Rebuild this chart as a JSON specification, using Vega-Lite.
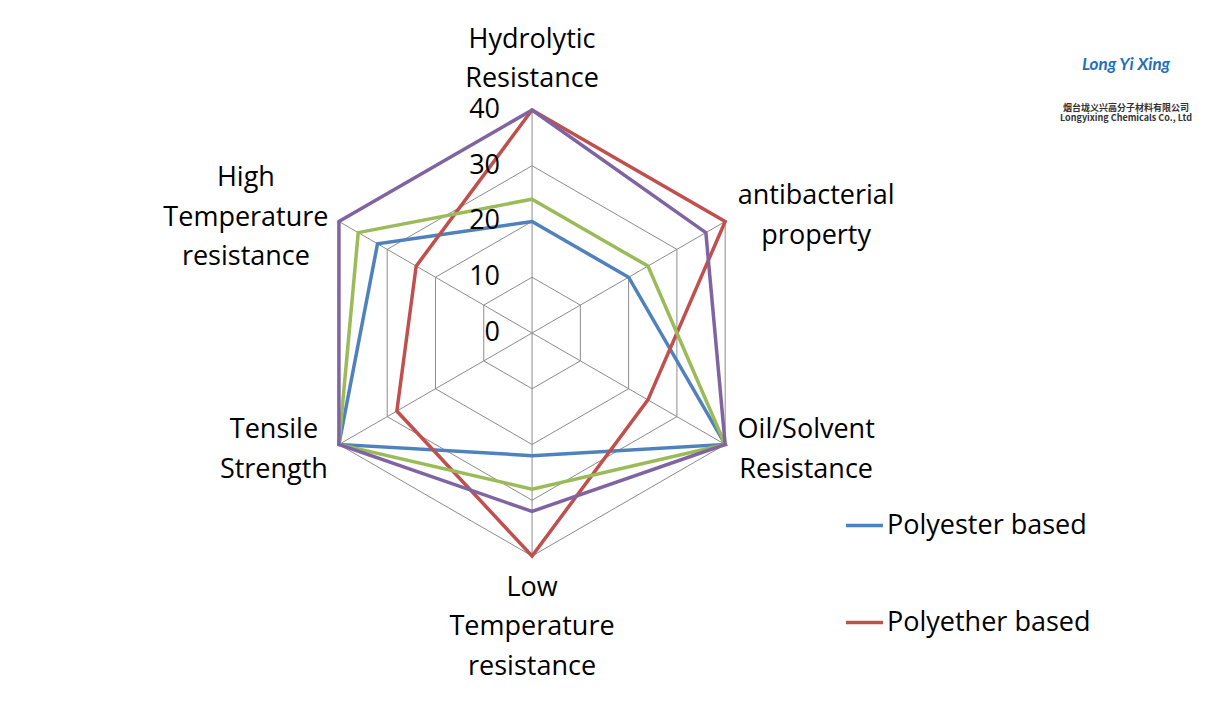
{
  "$schema": "https://vega.github.io/schema/vega-lite/v6.json",
  "width": 1210,
  "height": 720,
  "autosize": {"type": "none"},
  "padding": 0,
  "background": "white",
  "config": {"view": {"stroke": null}, "font": "Open Sans"},
  "title": {
    "text": "Long Yi Xing",
    "subtitle": ["烟台垅义兴高分子材料有限公司", "Longyixing Chemicals Co., Ltd"],
    "anchor": "end",
    "frame": "group",
    "orient": "top",
    "align": "center",
    "dx": -84,
    "offset": -124,
    "font": "Lato",
    "fontStyle": "italic",
    "fontWeight": "bold",
    "fontSize": 17,
    "color": "#1E70BC",
    "subtitleFont": "Noto Sans CJK SC",
    "subtitleFontSize": 9,
    "subtitleFontWeight": "bold",
    "subtitleColor": "#333333",
    "subtitlePadding": 30,
    "subtitleLineHeight": 10
  },
  "datasets": {
    "scores": [
      {"series": "Polyester based", "category": "Hydrolytic Resistance", "value": 20},
      {"series": "Polyester based", "category": "antibacterial property", "value": 20},
      {"series": "Polyester based", "category": "Oil/Solvent Resistance", "value": 40},
      {"series": "Polyester based", "category": "Low Temperature resistance", "value": 22},
      {"series": "Polyester based", "category": "Tensile Strength", "value": 40},
      {"series": "Polyester based", "category": "High Temperature resistance", "value": 32},
      {"series": "Polyether based", "category": "Hydrolytic Resistance", "value": 40},
      {"series": "Polyether based", "category": "antibacterial property", "value": 40},
      {"series": "Polyether based", "category": "Oil/Solvent Resistance", "value": 24},
      {"series": "Polyether based", "category": "Low Temperature resistance", "value": 40},
      {"series": "Polyether based", "category": "Tensile Strength", "value": 28},
      {"series": "Polyether based", "category": "High Temperature resistance", "value": 24},
      {"series": "Polycaprolactone based", "category": "Hydrolytic Resistance", "value": 24},
      {"series": "Polycaprolactone based", "category": "antibacterial property", "value": 24},
      {"series": "Polycaprolactone based", "category": "Oil/Solvent Resistance", "value": 40},
      {"series": "Polycaprolactone based", "category": "Low Temperature resistance", "value": 28},
      {"series": "Polycaprolactone based", "category": "Tensile Strength", "value": 40},
      {"series": "Polycaprolactone based", "category": "High Temperature resistance", "value": 36},
      {"series": "Polycarbonate based", "category": "Hydrolytic Resistance", "value": 40},
      {"series": "Polycarbonate based", "category": "antibacterial property", "value": 36},
      {"series": "Polycarbonate based", "category": "Oil/Solvent Resistance", "value": 40},
      {"series": "Polycarbonate based", "category": "Low Temperature resistance", "value": 32},
      {"series": "Polycarbonate based", "category": "Tensile Strength", "value": 40},
      {"series": "Polycarbonate based", "category": "High Temperature resistance", "value": 40}
    ],
    "cats": [
      {"category": "Hydrolytic Resistance"},
      {"category": "antibacterial property"},
      {"category": "Oil/Solvent Resistance"},
      {"category": "Low Temperature resistance"},
      {"category": "Tensile Strength"},
      {"category": "High Temperature resistance"}
    ],
    "grid": [
      {"level": 10, "k": [0, 1, 2, 3, 4, 5]},
      {"level": 20, "k": [0, 1, 2, 3, 4, 5]},
      {"level": 30, "k": [0, 1, 2, 3, 4, 5]},
      {"level": 40, "k": [0, 1, 2, 3, 4, 5]}
    ],
    "ticks": [{"tick": 0}, {"tick": 10}, {"tick": 20}, {"tick": 30}, {"tick": 40}]
  },
  "encoding": {
    "x": {"field": "px", "type": "quantitative", "scale": {"domain": [-95.43, 121.6], "nice": false, "zero": false}, "axis": null},
    "y": {"field": "py", "type": "quantitative", "scale": {"domain": [-69.42, 59.73], "nice": false, "zero": false}, "axis": null}
  },
  "layer": [
    {
      "data": {"name": "grid"},
      "transform": [
        {"flatten": ["k"]},
        {"calculate": "PI/2 - datum.k*PI/3", "as": "a"},
        {"calculate": "datum.level*cos(datum.a)", "as": "px"},
        {"calculate": "datum.level*sin(datum.a)", "as": "py"}
      ],
      "mark": {"type": "line", "interpolate": "linear-closed", "color": "#8C8C8C", "strokeWidth": 1},
      "encoding": {"detail": {"field": "level"}, "order": {"field": "k", "type": "quantitative"}}
    },
    {
      "data": {"name": "cats"},
      "transform": [
        {"calculate": "indexof(['Hydrolytic Resistance','antibacterial property','Oil/Solvent Resistance','Low Temperature resistance','Tensile Strength','High Temperature resistance'], datum.category)", "as": "k"},
        {"calculate": "PI/2 - datum.k*PI/3", "as": "a"},
        {"calculate": "40*cos(datum.a)", "as": "px"},
        {"calculate": "40*sin(datum.a)", "as": "py"}
      ],
      "mark": {"type": "rule", "color": "#8C8C8C", "strokeWidth": 1},
      "encoding": {"x2": {"datum": 0}, "y2": {"datum": 0}}
    },
    {
      "data": {"name": "scores"},
      "transform": [
        {"calculate": "indexof(['Hydrolytic Resistance','antibacterial property','Oil/Solvent Resistance','Low Temperature resistance','Tensile Strength','High Temperature resistance'], datum.category)", "as": "k"},
        {"calculate": "PI/2 - datum.k*PI/3", "as": "a"},
        {"calculate": "datum.value*cos(datum.a)", "as": "px"},
        {"calculate": "datum.value*sin(datum.a)", "as": "py"}
      ],
      "mark": {"type": "line", "interpolate": "linear-closed", "strokeWidth": 3.5},
      "encoding": {
        "color": {
          "field": "series",
          "type": "nominal",
          "sort": ["Polyester based", "Polyether based", "Polycaprolactone based", "Polycarbonate based"],
          "scale": {
            "domain": ["Polyester based", "Polyether based", "Polycaprolactone based", "Polycarbonate based"],
            "range": ["#4F81BD", "#C0504D", "#9BBB59", "#8064A2"]
          },
          "legend": {
            "orient": "none",
            "legendX": 844,
            "legendY": 505,
            "title": null,
            "values": ["Polyester based", "Polyether based"],
            "symbolType": "stroke",
            "symbolSize": 1369,
            "symbolStrokeWidth": 3.5,
            "labelFont": "Open Sans",
            "labelFontSize": 27,
            "labelColor": "black",
            "labelLimit": 400,
            "labelOffset": 2,
            "rowPadding": 63,
            "padding": 0
          }
        },
        "order": {"field": "k", "type": "quantitative"}
      }
    },
    {
      "data": {"name": "ticks"},
      "transform": [
        {"calculate": "0", "as": "px"},
        {"calculate": "datum.tick", "as": "py"}
      ],
      "mark": {"type": "text", "align": "right", "baseline": "middle", "dx": -32, "fontSize": 27, "color": "black"},
      "encoding": {"text": {"field": "tick"}}
    },
    {
      "data": {"name": "cats"},
      "transform": [
        {"filter": "datum.category == 'Hydrolytic Resistance'"},
        {"calculate": "0", "as": "px"},
        {"calculate": "40", "as": "py"}
      ],
      "mark": {"type": "text", "align": "center", "baseline": "middle", "dy": -70, "fontSize": 27, "lineBreak": " ", "lineHeight": 39, "color": "black"},
      "encoding": {"text": {"field": "category"}}
    },
    {
      "data": {"name": "cats"},
      "transform": [
        {"filter": "datum.category == 'antibacterial property'"},
        {"calculate": "40*cos(PI/6)", "as": "px"},
        {"calculate": "40*sin(PI/6)", "as": "py"}
      ],
      "mark": {"type": "text", "align": "center", "baseline": "middle", "dx": 91, "dy": -25, "fontSize": 27, "lineBreak": " ", "lineHeight": 40, "color": "black"},
      "encoding": {"text": {"field": "category"}}
    },
    {
      "data": {"name": "cats"},
      "transform": [
        {"filter": "datum.category == 'Oil/Solvent Resistance'"},
        {"calculate": "40*cos(PI/6)", "as": "px"},
        {"calculate": "-40*sin(PI/6)", "as": "py"}
      ],
      "mark": {"type": "text", "align": "center", "baseline": "middle", "dx": 81, "dy": -14, "fontSize": 27, "lineBreak": " ", "lineHeight": 40, "color": "black"},
      "encoding": {"text": {"field": "category"}}
    },
    {
      "data": {"name": "cats"},
      "transform": [
        {"filter": "datum.category == 'Low Temperature resistance'"},
        {"calculate": "0", "as": "px"},
        {"calculate": "-40", "as": "py"}
      ],
      "mark": {"type": "text", "align": "center", "baseline": "middle", "dy": 32, "fontSize": 27, "lineBreak": " ", "lineHeight": 39.5, "color": "black"},
      "encoding": {"text": {"field": "category"}}
    },
    {
      "data": {"name": "cats"},
      "transform": [
        {"filter": "datum.category == 'Tensile Strength'"},
        {"calculate": "-40*cos(PI/6)", "as": "px"},
        {"calculate": "-40*sin(PI/6)", "as": "py"}
      ],
      "mark": {"type": "text", "align": "center", "baseline": "middle", "dx": -65, "dy": -14, "fontSize": 27, "lineBreak": " ", "lineHeight": 40, "color": "black"},
      "encoding": {"text": {"field": "category"}}
    },
    {
      "data": {"name": "cats"},
      "transform": [
        {"filter": "datum.category == 'High Temperature resistance'"},
        {"calculate": "-40*cos(PI/6)", "as": "px"},
        {"calculate": "40*sin(PI/6)", "as": "py"}
      ],
      "mark": {"type": "text", "align": "center", "baseline": "middle", "dx": -93, "dy": -43, "fontSize": 27, "lineBreak": " ", "lineHeight": 39.5, "color": "black"},
      "encoding": {"text": {"field": "category"}}
    }
  ]
}
